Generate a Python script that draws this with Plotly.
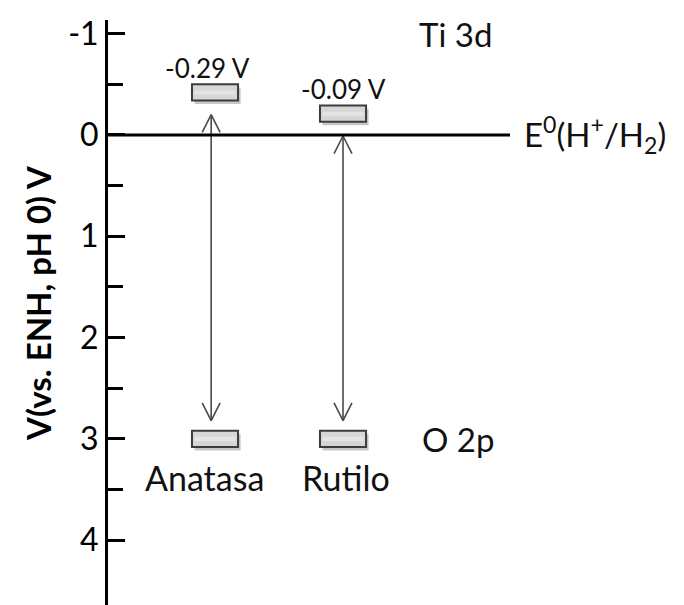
import plotly.graph_objects as go

# ---------------- data ----------------
categories = ["Anatasa", "Rutilo"]
cb_levels = [-0.42, -0.21]          # drawn conduction-band edge positions (V)
cb_labels = ["-0.29 V", "-0.09 V"]  # printed values
vb_levels = [3.0, 3.0]              # valence-band edge positions (V)
y_major = [-1, 0, 1, 2, 3, 4]
y_minor = [-0.5, 0.5, 1.5, 2.5, 3.5]
ref_level = 0
ref_label = "E<sup>0</sup>(H<sup>+</sup>/H<sub>2</sub>)"
top_band_label = "Ti 3d"
bottom_band_label = "O 2p"
y_title = "V(vs. ENH, pH 0) V"

# ---------------- style / layout constants ----------------
W, H = 684, 605
ML, MR, MT, MB = 108, 0, 20, 0
XR = [-0.836, 3.664]
YR = [4.64, -1.135]
FONT = "Lato"
rect_w = 0.18
rect_h = 0.08
head_dx = 0.07
head_dy = 0.175
arrow_color = "#4a4a4a"
arrow_dx = [-0.03, 0.0]       # small horizontal nudges (layout only)
cb_label_dx = [-0.055, 0.0]
name_dx = [-0.08, 0.02]

fig = go.Figure()
shapes = []
annotations = []

for i, cat in enumerate(categories):
    xc = i
    for lvl in (cb_levels[i], vb_levels[i]):
        # shadow
        shapes.append(dict(type="rect", xref="x", yref="y",
                           x0=xc - rect_w + 0.02, x1=xc + rect_w + 0.02,
                           y0=lvl - rect_h + 0.035, y1=lvl + rect_h + 0.035,
                           fillcolor="rgba(0,0,0,0.22)", line=dict(width=0), layer="below"))
        shapes.append(dict(type="rect", xref="x", yref="y",
                           x0=xc - rect_w, x1=xc + rect_w,
                           y0=lvl - rect_h, y1=lvl + rect_h,
                           fillcolor="#d6d6d6", line=dict(color="#3c3c3c", width=2)))
        shapes.append(dict(type="rect", xref="x", yref="y",
                           x0=xc - rect_w + 0.02, x1=xc + rect_w - 0.02,
                           y0=lvl - 0.02, y1=lvl + 0.02,
                           fillcolor="#e4e4e4", line=dict(width=0)))

    # double arrow
    ax = xc + arrow_dx[i]
    top = cb_levels[i] + rect_h + 0.14
    bot = vb_levels[i] - rect_h - 0.10
    xs = [ax, ax, None, ax - head_dx, ax, ax + head_dx, None, ax - head_dx, ax, ax + head_dx]
    ys = [top, bot, None, top + head_dy, top, top + head_dy, None, bot - head_dy, bot, bot - head_dy]
    fig.add_trace(go.Scatter(x=xs, y=ys, mode="lines",
                             line=dict(color=arrow_color, width=1.6),
                             hoverinfo="skip", showlegend=False))

    # labels
    annotations.append(dict(x=xc + cb_label_dx[i], y=cb_levels[i] - 0.245, xref="x", yref="y",
                            text=cb_labels[i], showarrow=False,
                            font=dict(family=FONT, size=26, color="#111111")))
    annotations.append(dict(x=xc + name_dx[i], y=vb_levels[i] + 0.38, xref="x", yref="y",
                            text=cat, showarrow=False,
                            font=dict(family=FONT, size=34, color="#111111")))

# reference line E0
shapes.append(dict(type="line", xref="paper", yref="y", x0=0, x1=(510 - ML) / (W - ML - MR),
                   y0=ref_level, y1=ref_level, line=dict(color="black", width=3)))
annotations.append(dict(x=2.40, y=ref_level, xref="x", yref="y", xanchor="left",
                        text=ref_label, showarrow=False,
                        font=dict(family=FONT, size=33, color="#111111")))
annotations.append(dict(x=1.88, y=-1.0, xref="x", yref="y", text=top_band_label,
                        showarrow=False, font=dict(family=FONT, size=33, color="#111111")))
annotations.append(dict(x=1.90, y=3.0, xref="x", yref="y", text=bottom_band_label,
                        showarrow=False, font=dict(family=FONT, size=33, color="#111111")))
# axis title
annotations.append(dict(x=(38 - ML) / (W - ML - MR), y=1 - (303 - MT) / (H - MT - MB),
                        xref="paper", yref="paper", xanchor="center", yanchor="middle",
                        text="<b>" + y_title + "</b>",
                        textangle=-90, showarrow=False,
                        font=dict(family=FONT, size=33, color="black")))

fig.update_layout(
    width=W, height=H,
    margin=dict(l=ML, r=MR, t=MT, b=MB, pad=0),
    paper_bgcolor="white", plot_bgcolor="white",
    shapes=shapes, annotations=annotations,
    xaxis=dict(range=XR, visible=False, fixedrange=True),
    yaxis=dict(range=YR, showline=True, linewidth=3, linecolor="black",
               ticks="inside", ticklen=17, tickwidth=3, tickcolor="black",
               tickmode="array", tickvals=y_major, ticktext=[str(v) for v in y_major],
               tickfont=dict(family=FONT, size=32, color="black"),
               ticklabelstandoff=0,
               showgrid=False, zeroline=False,
               minor=dict(tickmode="array", tickvals=y_minor, ticks="inside",
                          ticklen=15, tickwidth=3, tickcolor="black", showgrid=False)),
    showlegend=False,
)

fig.write_html("out.html", config={"displayModeBar": False},
               post_script="document.body.style.margin='0';document.body.style.overflow='hidden';")
